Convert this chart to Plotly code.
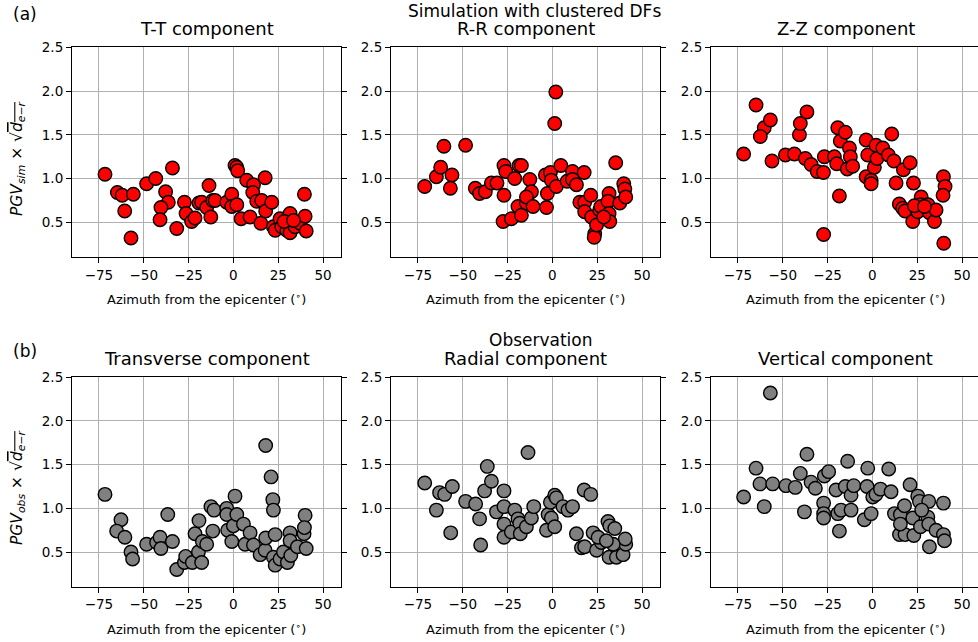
import plotly.graph_objects as go

# ---------------- data ----------------
az_tt = [-71.6, -64.7, -62.0, -55.8, -60.6, -57.1, -48.4, -43.3, -34.0, -37.8, -36.3, -40.4, -40.9, -31.6,
         -27.3, -26.4, -23.3, -21.4, -19.2, -17.7, -14.9, -13.6, -12.6, -11.5, -10.2, -3.7, -0.9, -0.9, 1.9,
         0.9, 1.9, 2.4, 4.3, 7.4, 9.3, 11.2, 10.8, 13.0, 15.3, 17.7, 15.8, 18.0, 21.4, 22.3, 23.3, 26.0, 27.0,
         29.8, 31.6, 31.6, 34.4, 37.2, 40.0, 39.6, 40.6, 28.3, 33.5]
pgv_tt = [1.05, 0.84, 0.81, 0.82, 0.63, 0.32, 0.94, 1.00, 1.12, 0.85, 0.73, 0.67, 0.53, 0.43,
          0.73, 0.60, 0.51, 0.55, 0.72, 0.73, 0.67, 0.92, 0.56, 0.75, 0.75, 0.73, 0.82, 0.68, 0.70,
          1.15, 1.13, 1.09, 0.54, 0.98, 0.56, 0.93, 0.84, 0.74, 0.49, 1.01, 0.75, 0.63, 0.73, 0.45, 0.41, 0.54, 0.45,
          0.41, 0.60, 0.38, 0.45, 0.49, 0.57, 0.82, 0.40, 0.51, 0.52]

az_rr = [-71.2, -64.7, -62.3, -60.5, -56.0, -56.9, -48.4, -43.0, -40.6, -37.4, -34.0, -30.9, -27.0, -27.0,
         -26.0, -27.5, -22.9, -21.0, -19.2, -18.6, -17.3, -17.3, -14.5, -12.6, -11.7, -14.5, -10.8, -3.3,
         -2.8, -3.9, -1.1, -0.6, 2.2, 1.9, 1.3, 4.7, 8.2, 11.2, 11.2, 13.4, 17.7, 15.3, 18.0, 21.4, 18.0,
         21.8, 23.6, 23.3, 24.6, 26.4, 27.0, 31.6, 31.0, 31.6, 32.0, 35.3, 37.6, 39.8, 40.4, 40.9, 28.6]
pgv_rr = [0.91, 1.02, 1.13, 1.37, 1.04, 0.89, 1.38, 0.89, 0.83, 0.85, 0.95, 0.95, 0.81, 1.15,
          1.08, 0.51, 0.54, 1.00, 0.68, 1.15, 1.15, 0.58, 0.72, 0.99, 0.85, 0.79, 0.68, 0.67,
          0.83, 1.04, 1.07, 0.98, 0.91, 1.99, 1.63, 1.15, 0.97, 1.08, 0.99, 0.93, 1.07, 0.73, 0.73, 0.81, 0.62,
          0.56, 0.37, 0.33, 0.47, 0.64, 0.68, 0.83, 0.74, 0.60, 0.51, 1.18, 0.72, 0.94, 0.88, 0.79, 0.56]

az_zz = [-71.8, -64.9, -60.3, -62.5, -56.9, -56.0, -48.5, -43.5, -40.7, -40.2, -36.5, -37.4, -34.2, -30.8,
         -27.3, -26.8, -27.2, -21.2, -19.3, -19.9, -18.4, -17.9, -15.1, -12.8, -12.3, -14.0, -11.0, -3.5,
         -2.6, -3.5, -0.7, -0.7, 1.1, 2.6, 2.0, 5.8, 8.9, 10.8, 12.0, 13.2, 17.3, 21.0, 22.9, 15.0, 16.9,
         18.2, 22.5, 25.3, 27.2, 26.8, 31.0, 31.8, 34.6, 35.5, 39.6, 40.5, 39.4, 39.8, 23.4, 29.0]
pgv_zz = [1.28, 1.84, 1.58, 1.48, 1.67, 1.20, 1.27, 1.28, 1.50, 1.63, 1.76, 1.23, 1.16, 1.08,
          1.07, 1.25, 0.36, 1.25, 1.58, 1.17, 0.80, 1.43, 1.53, 1.35, 1.25, 1.11, 1.14, 1.44,
          1.27, 1.02, 0.98, 0.94, 1.13, 1.23, 1.38, 1.35, 1.27, 1.51, 1.20, 0.95, 1.10, 1.18, 0.95, 0.71, 0.66,
          0.63, 0.51, 0.62, 0.79, 0.70, 0.70, 0.61, 0.51, 0.64, 1.02, 0.91, 0.81, 0.26, 0.69, 0.68]

az_tr = [-71.6, -62.7, -65.1, -60.5, -57.1, -56.2, -48.4, -42.8, -40.9, -40.4, -36.6, -34.0, -31.6, -27.3,
         -26.6, -22.9, -21.4, -19.2, -19.5, -17.7, -17.3, -14.9, -12.5, -11.5, -10.8, -3.7, -3.7, -3.2,
         -0.9, 0.0, 0.9, 1.9, 5.6, 6.5, 9.3, 11.2, 14.9, 17.7, 18.0, 18.0, 21.0, 22.0, 22.3, 23.3, 22.3,
         23.3, 26.0, 27.9, 30.1, 31.6, 31.6, 32.0, 35.7, 39.4, 40.0, 39.6, 40.6]
pgv_tr = [1.16, 0.87, 0.74, 0.67, 0.50, 0.42, 0.59, 0.61, 0.67, 0.54, 0.93, 0.62, 0.30, 0.38,
          0.45, 0.38, 0.71, 0.86, 0.50, 0.38, 0.62, 0.59, 1.02, 0.74, 0.98, 1.00, 0.93, 0.75,
          0.62, 0.80, 1.14, 0.93, 0.82, 0.59, 0.72, 0.58, 0.47, 0.52, 0.66, 1.72, 1.36, 1.10, 0.98, 0.70, 0.44,
          0.35, 0.42, 0.50, 0.38, 0.72, 0.63, 0.46, 0.56, 0.71, 0.92, 0.78, 0.54]

az_ra = [-71.2, -64.7, -62.9, -60.1, -55.8, -56.7, -48.4, -42.8, -40.6, -40.0, -37.8, -36.3, -34.0, -31.2,
         -27.0, -27.0, -27.0, -27.0, -22.9, -21.0, -19.2, -18.2, -17.9, -13.6, -14.5, -11.7, -10.4, -3.3,
         -2.4, -0.6, 1.3, -1.1, 1.3, 2.2, 5.9, 8.7, 11.2, 17.7, 21.4, 13.4, 16.2, 18.0, 22.7, 24.6, 27.3,
         31.0, 32.0, 31.6, 34.8, 35.7, 39.4, 40.9, 40.6, 33.9, 25.5, 30.1]
pgv_ra = [1.29, 0.98, 1.18, 1.16, 1.25, 0.72, 1.08, 1.05, 0.88, 0.58, 1.20, 1.48, 1.31, 0.96,
          1.20, 1.02, 0.82, 0.67, 0.73, 0.98, 0.88, 0.83, 0.71, 1.64, 0.79, 0.89, 1.02, 0.75,
          0.93, 0.89, 0.79, 1.07, 1.15, 1.12, 1.02, 0.98, 1.02, 1.21, 1.16, 0.71, 0.55, 0.56, 0.72, 0.52, 0.61,
          0.85, 0.80, 0.44, 0.77, 0.44, 0.47, 0.59, 0.65, 0.59, 0.67, 0.63]

az_ve = [-71.8, -64.9, -62.7, -60.3, -56.9, -55.6, -48.2, -43.0, -40.2, -37.9, -36.5, -34.2, -31.8, -27.2,
         -27.2, -27.2, -26.8, -24.4, -20.3, -19.3, -18.4, -17.5, -15.1, -13.8, -11.9, -11.9, -10.4, -4.5,
         -2.6, -3.0, -0.7, 0.2, 2.0, 4.5, 9.1, 10.4, 12.3, 15.6, 17.9, 15.1, 18.2, 21.0, 22.5, 23.1, 25.3,
         26.2, 26.8, 30.9, 31.4, 31.4, 31.8, 35.5, 39.6, 39.6, 40.2, 15.6, 27.5]
pgv_ve = [1.13, 1.46, 1.28, 1.02, 2.32, 1.28, 1.26, 1.24, 1.40, 0.96, 1.62, 1.30, 1.23, 1.06,
          0.94, 0.89, 1.37, 1.42, 1.21, 0.94, 0.74, 0.98, 1.25, 1.54, 1.15, 0.98, 1.26, 0.87,
          1.46, 1.25, 0.94, 1.13, 1.16, 1.22, 1.45, 1.19, 0.94, 0.93, 1.03, 0.70, 0.70, 1.27, 0.89, 0.69, 1.14,
          1.08, 0.79, 0.90, 1.08, 0.82, 0.56, 0.75, 1.06, 0.70, 0.63, 0.82, 0.98]

titles = ["T-T component", "R-R component", "Z-Z component",
          "Transverse component", "Radial component", "Vertical component"]
xticks = [-75, -50, -25, 0, 25, 50]
yticks = [0.5, 1.0, 1.5, 2.0, 2.5]

# ---------------- layout helpers ----------------
W, H = 978, 642
def px(x):
    return x / W
def py(y):
    return 1 - y / H

col_dom = [(72, 341), (391, 660), (711, 978)]
row_dom = [(47.3, 257.3), (377.3, 587.0)]
xscale = 269 / 150.0  # px per degree

panels = [(az_tt, pgv_tt, "red"), (az_rr, pgv_rr, "red"), (az_zz, pgv_zz, "red"),
          (az_tr, pgv_tr, "gray"), (az_ra, pgv_ra, "gray"), (az_ve, pgv_ve, "gray")]

fig = go.Figure()
FONT = "DejaVu Sans"
annotations = []
layout = dict(width=W, height=H, margin=dict(l=0, r=0, t=0, b=0),
              paper_bgcolor="white", plot_bgcolor="white", showlegend=False,
              font=dict(family=FONT, color="black", size=13))

for i, (xs, ys, col) in enumerate(panels):
    r, c = divmod(i, 3)
    n = i + 1
    xa = "x" if n == 1 else f"x{n}"
    ya = "y" if n == 1 else f"y{n}"
    fig.add_trace(go.Scatter(x=xs, y=ys, mode="markers", xaxis=xa, yaxis=ya,
                             marker=dict(size=13.5, color=col,
                                         line=dict(color="black", width=1.4))))
    x0, x1 = col_dom[c]
    y0, y1 = row_dom[r]
    xr_end = -90 + (x1 - x0) / xscale
    layout["xaxis" if n == 1 else f"xaxis{n}"] = dict(
        domain=[px(x0), px(x1)], anchor=ya, range=[-90, xr_end],
        tickmode="array", tickvals=xticks, ticktext=[str(v).replace("-", "\u2212") for v in xticks],
        ticks="outside", ticklen=5, tickwidth=1.1, tickcolor="black",
        showline=True, linecolor="black", linewidth=1.1, mirror=True,
        showgrid=True, gridcolor="#b0b0b0", gridwidth=1, zeroline=False,
        tickfont=dict(size=13.5, family=FONT), automargin=False, fixedrange=True)
    layout["yaxis" if n == 1 else f"yaxis{n}"] = dict(
        domain=[py(y1), py(y0)], anchor=xa, range=[0.1, 2.5],
        tickmode="array", tickvals=yticks, ticktext=[f"{v:.1f}" for v in yticks],
        ticks="outside", ticklen=5, tickwidth=1.1, tickcolor="black",
        showline=True, linecolor="black", linewidth=1.1, mirror="ticks",
        showgrid=True, gridcolor="#b0b0b0", gridwidth=1, zeroline=False,
        tickfont=dict(size=13.5, family=FONT), automargin=False, fixedrange=True)
    cx = (x0 + (x1 + 2 if c == 2 else x1)) / 2
    # panel title
    annotations.append(dict(text=titles[i], x=px(cx), y=py(y0 - 6),
                            xref="paper", yref="paper", xanchor="center", yanchor="bottom",
                            showarrow=False, font=dict(size=18, family=FONT)))
    # x-axis label
    annotations.append(dict(text="Azimuth from the epicenter (<sup>\u2218</sup>)",
                            x=px(cx), y=py(y1 + 42),
                            xref="paper", yref="paper", xanchor="center", yanchor="middle",
                            showarrow=False, font=dict(size=13, family=FONT)))

ylab_sim = ("<i>PGV<sub>sim</sub></i> \u00d7 \u221a"
            "<span style='text-decoration:overline'><i>d<sub>e\u2212r</sub></i></span>")
ylab_obs = ("<i>PGV<sub>obs</sub></i> \u00d7 \u221a"
            "<span style='text-decoration:overline'><i>d<sub>e\u2212r</sub></i></span>")
annotations.append(dict(text=ylab_sim, x=px(18), y=py(158), xref="paper", yref="paper",
                        textangle=-90, showarrow=False, xanchor="center", yanchor="middle",
                        font=dict(size=15.5, family=FONT)))
annotations.append(dict(text=ylab_obs, x=px(18), y=py(488), xref="paper", yref="paper",
                        textangle=-90, showarrow=False, xanchor="center", yanchor="middle",
                        font=dict(size=15.5, family=FONT)))

annotations.append(dict(text="Simulation with clustered DFs", x=px(534), y=py(11), xref="paper",
                        yref="paper", showarrow=False, xanchor="center", yanchor="middle",
                        font=dict(size=17, family=FONT)))
annotations.append(dict(text="Observation", x=px(541), y=py(340), xref="paper",
                        yref="paper", showarrow=False, xanchor="center", yanchor="middle",
                        font=dict(size=17, family=FONT)))
annotations.append(dict(text="(a)", x=px(25), y=py(14), xref="paper", yref="paper",
                        showarrow=False, xanchor="center", yanchor="middle",
                        font=dict(size=17, family=FONT)))
annotations.append(dict(text="(b)", x=px(25), y=py(351), xref="paper", yref="paper",
                        showarrow=False, xanchor="center", yanchor="middle",
                        font=dict(size=17, family=FONT)))

layout["annotations"] = annotations
fig.update_layout(**layout)
fig.write_html("out.html", config={"displayModeBar": False},
               post_script="document.body.style.margin='0px';document.body.style.overflow='hidden';")
